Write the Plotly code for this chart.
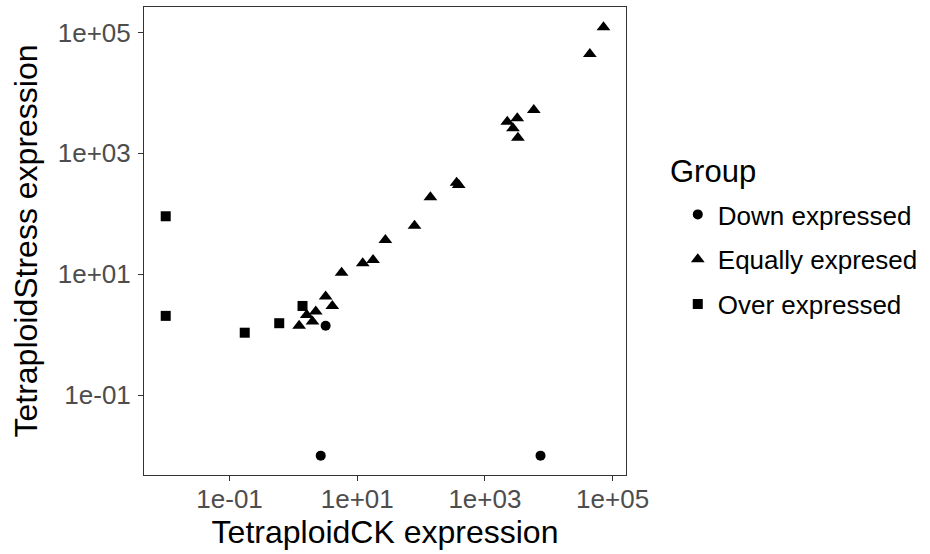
import plotly.graph_objects as go

# Data (TetraploidCK expression, TetraploidStress expression)
down_x = [2.68, 7430, 3.2]
down_y = [0.01, 0.01, 1.41]

equal_x = [72000, 44000, 5830, 3210, 2240, 2750, 3290, 360, 389, 140, 79, 27.6,
           1.23, 1.62, 1.99, 2.24, 3.2, 4.07, 5.69, 12.2, 17.7]
equal_y = [122000, 43800, 5200, 3800, 3330, 2590, 1810, 327, 299, 188, 63.5, 36.9,
           1.41, 2.12, 1.65, 2.41, 4.27, 2.99, 10.6, 15.2, 17.2]

over_x = [0.01, 0.01, 0.173, 0.60, 1.39]
over_y = [91, 2.05, 1.08, 1.55, 2.99]

tick_vals = [0.1, 10, 1000, 100000]
tick_text = ["1e-01", "1e+01", "1e+03", "1e+05"]

FONT = "Liberation Sans, Arial, sans-serif"

fig = go.Figure()
fig.add_trace(go.Scatter(x=down_x, y=down_y, mode="markers", name="Down expressed",
                         legendgroup="a",
                         marker=dict(symbol="circle", size=10, color="black")))
fig.add_trace(go.Scatter(x=equal_x, y=equal_y, mode="markers", name="Equally expresed",
                         legendgroup="b",
                         marker=dict(symbol="triangle-up", size=12, color="black")))
fig.add_trace(go.Scatter(x=over_x, y=over_y, mode="markers", name="Over expressed",
                         legendgroup="c",
                         marker=dict(symbol="square", size=10, color="black")))

axis_common = dict(
    type="log", showgrid=False, zeroline=False,
    showline=True, linecolor="#333333", linewidth=1, mirror=True,
    ticks="outside", ticklen=5, tickcolor="#333333", tickwidth=1,
    tickvals=tick_vals, ticktext=tick_text,
    tickfont=dict(family=FONT, size=26, color="#4D4D4D"),
)

fig.update_layout(
    width=930, height=554,
    margin=dict(l=144, r=302, t=7, b=79),
    paper_bgcolor="white", plot_bgcolor="white",
    xaxis=dict(range=[-2.34, 5.21],
               title=dict(text="TetraploidCK expression",
                          font=dict(family=FONT, size=32, color="black"), standoff=6),
               ticklabelstandoff=-4,
               **axis_common),
    yaxis=dict(range=[-2.32, 5.42],
               title=dict(text="TetraploidStress expression",
                          font=dict(family=FONT, size=32, color="black"), standoff=10),
               ticklabelstandoff=2,
               **axis_common),
    legend=dict(font=dict(family=FONT, size=26, color="black"),
                x=(680 - 144) / 484, xanchor="left",
                y=(475 - 191) / 468, yanchor="top",
                tracegroupgap=8, bgcolor="rgba(0,0,0,0)"),
    showlegend=True,
    annotations=[dict(text="Group", xref="paper", yref="paper",
                      x=(670 - 144) / 484, xanchor="left",
                      y=(475 - 172) / 468, yanchor="middle",
                      showarrow=False,
                      font=dict(family=FONT, size=31, color="black"))],
)

fig.write_html("out.html")
